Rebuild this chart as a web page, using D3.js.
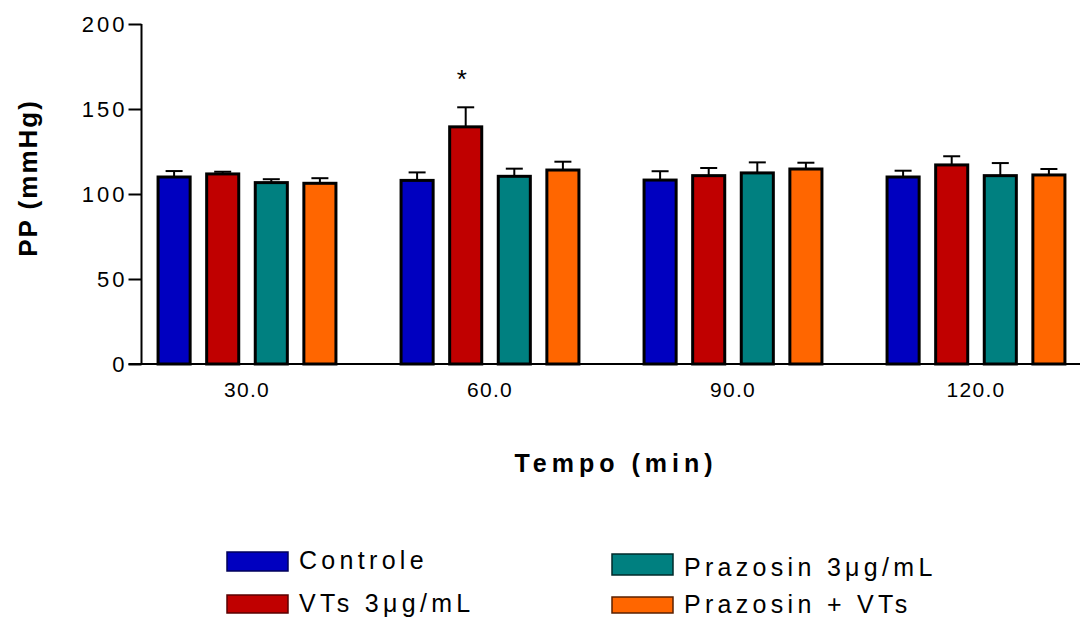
<!DOCTYPE html>
<html>
<head>
<meta charset="utf-8">
<script src="https://cdn.jsdelivr.net/npm/d3@7"></script>
<style>
  html, body { margin: 0; padding: 0; background: #fff; }
  svg { display: block; }
  text { font-family: "Liberation Sans", Arial, sans-serif; fill: #000; }
</style>
</head>
<body>
<svg id="chart" width="1083" height="622"></svg>
<script>
// ---- data ----
const categories = ["30.0", "60.0", "90.0", "120.0"];
const seriesNames = ["Controle", "VTs 3\u03bcg/mL", "Prazosin 3\u03bcg/mL", "Prazosin + VTs"];
const controle     = [110.0, 108.0, 108.2, 110.0];
const controleSem  = [3.5, 4.7, 5.2, 3.7];
const vts          = [111.8, 139.5, 110.8, 117.1];
const vtsSem       = [1.3, 11.5, 4.5, 5.1];
const prazosin     = [106.7, 110.4, 112.4, 110.8];
const prazosinSem  = [2.0, 4.5, 6.2, 7.4];
const prazVts      = [106.3, 114.1, 114.7, 111.2];
const prazVtsSem   = [3.0, 4.9, 3.7, 3.5];
const yTicks = [0, 50, 100, 150, 200];
const colors = ["#0000C0", "#C00000", "#008080", "#FF6600"];
const legendStroke = ["#00005a", "#5a0000", "#002a2a", "#5a2000"];
const significant = [{cat: "60.0", series: 1, label: "*"}];

const means = [controle, vts, prazosin, prazVts];
const sems = [controleSem, vtsSem, prazosinSem, prazVtsSem];

const svg = d3.select("#chart");

const y = d3.scaleLinear().domain([0, 200]).range([364, 24]);
const x = d3.scaleBand().domain(categories).range([125.5, 1097.5]).padding(0);
const xi = d3.scaleBand().domain(d3.range(seriesNames.length))
  .range([24.3, 218.7]).paddingInner(0.34).paddingOuter(0.17);

const axisX0 = 141.5;

const records = [];
categories.forEach((c, ci) => {
  seriesNames.forEach((s, si) => {
    records.push({cat: c, si, v: means[si][ci], e: sems[si][ci]});
  });
});

// error bars
const eb = svg.append("g");
records.forEach(d => {
  const cx = x(d.cat) + xi(d.si) + xi.bandwidth() / 2;
  eb.append("line").attr("x1", cx).attr("x2", cx)
    .attr("y1", y(d.v)).attr("y2", y(d.v + d.e))
    .attr("stroke", "#000").attr("stroke-width", 2);
  eb.append("line").attr("x1", cx - 8.5).attr("x2", cx + 8.5)
    .attr("y1", y(d.v + d.e)).attr("y2", y(d.v + d.e))
    .attr("stroke", "#000").attr("stroke-width", 2);
});

// bars
svg.append("g").selectAll("rect").data(records).join("rect")
  .attr("x", d => x(d.cat) + xi(d.si))
  .attr("y", d => y(d.v))
  .attr("width", xi.bandwidth())
  .attr("height", d => y(0) - y(d.v))
  .attr("fill", d => colors[d.si])
  .attr("stroke", "#000")
  .attr("stroke-width", 3);

// significance
significant.forEach(s => {
  const ci = categories.indexOf(s.cat);
  svg.append("text")
    .attr("x", x(s.cat) + xi(s.series) + xi.bandwidth() / 2 - 4)
    .attr("y", y(means[s.series][ci] + sems[s.series][ci]) - 19)
    .attr("text-anchor", "middle")
    .attr("font-size", 26)
    .text(s.label);
});

// y axis
const gy = svg.append("g").attr("transform", `translate(${axisX0},0)`)
  .call(d3.axisLeft(y).tickValues(yTicks).tickSize(13).tickPadding(1).tickFormat(d3.format("d")));
gy.select(".domain").attr("stroke-width", 2).attr("d", `M0,${y(200)}V${y(0)}`);
gy.selectAll(".tick line").attr("stroke-width", 2);
gy.selectAll(".tick text").attr("font-size", 22).style("letter-spacing", "3px")
  .attr("font-family", "Liberation Sans, Arial, sans-serif").attr("dy", "0.35em");

// x axis
const gx = svg.append("g").attr("transform", `translate(0,${y(0)})`)
  .call(d3.axisBottom(x).tickSize(0).tickPadding(18));
gx.select(".domain").attr("stroke-width", 2).attr("d", `M${axisX0 - 13},0H1080`);
gx.selectAll(".tick text").attr("font-size", 21).style("letter-spacing", "1.3px")
  .attr("font-family", "Liberation Sans, Arial, sans-serif");

// axis titles
svg.append("text").attr("x", 616).attr("y", 472).attr("text-anchor", "middle")
  .attr("font-size", 25).attr("font-weight", "bold").style("letter-spacing", "5px")
  .text("Tempo (min)");
svg.append("text").attr("transform", "translate(37,178) rotate(-90)")
  .attr("text-anchor", "middle").attr("font-size", 26).attr("font-weight", "bold")
  .style("letter-spacing", "2px")
  .text("PP (mmHg)");

// legend
const legendPos = [
  {x: 227, y: 552, h: 19, ty: 569},
  {x: 227, y: 595, h: 18, ty: 612},
  {x: 612, y: 554, h: 21, ty: 576},
  {x: 612, y: 597, h: 16, ty: 613}
];
const lg = svg.append("g");
seriesNames.forEach((s, i) => {
  const p = legendPos[i];
  lg.append("rect").attr("x", p.x).attr("y", p.y).attr("width", 61).attr("height", p.h)
    .attr("fill", colors[i]).attr("stroke", legendStroke[i]).attr("stroke-width", 1.5);
  lg.append("text").attr("x", p.x + 72).attr("y", p.ty)
    .attr("font-size", 25).style("letter-spacing", "4.3px").text(s);
});
</script>
</body>
</html>
